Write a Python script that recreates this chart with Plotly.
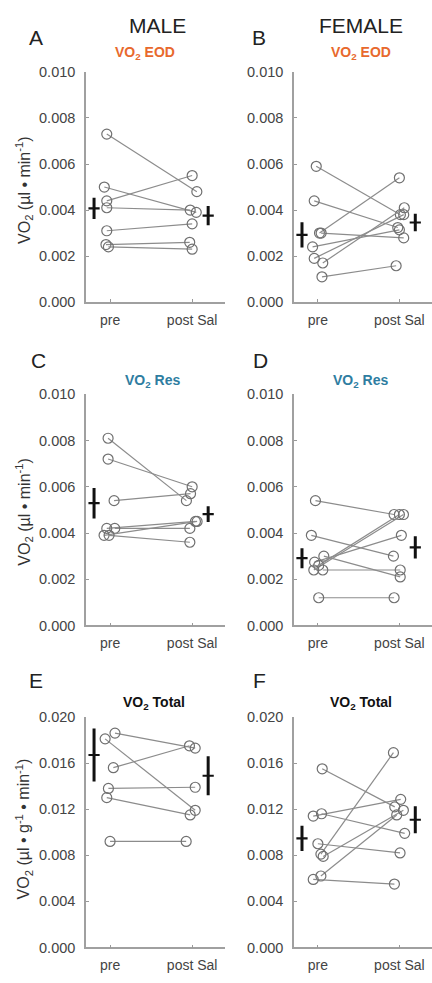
import plotly.graph_objects as go

# ---------------- data ----------------
categories = ["pre", "post Sal"]

A_pre = [0.0073, 0.0050, 0.0044, 0.0041, 0.0031, 0.0025, 0.0024]
A_post = [0.0048, 0.0039, 0.0055, 0.0040, 0.0034, 0.0026, 0.0023]
B_pre = [0.0059, 0.0044, 0.0030, 0.0030, 0.0024, 0.0019, 0.0017, 0.0011]
B_post = [0.0038, 0.00324, 0.0054, 0.00279, 0.00314, 0.0038, 0.0041, 0.00158]
C_pre = [0.0081, 0.0072, 0.0054, 0.0042, 0.0042, 0.0039, 0.0039]
C_post = [0.0054, 0.0060, 0.0057, 0.0045, 0.0042, 0.0045, 0.0036]
D_pre = [0.0054, 0.0039, 0.0030, 0.00274, 0.0026, 0.0024, 0.0024, 0.0012]
D_post = [0.0048, 0.0030, 0.0021, 0.0039, 0.0048, 0.0048, 0.0024, 0.0012]
E_pre = [0.0181, 0.0186, 0.0156, 0.0138, 0.0130, 0.0092]
E_post = [0.0119, 0.0173, 0.0175, 0.0139, 0.0115, 0.0092]
F_pre = [0.0155, 0.0114, 0.0116, 0.0090, 0.0081, 0.0079, 0.0062, 0.0059]
F_post = [0.0122, 0.01285, 0.0099, 0.0082, 0.0169, 0.0119, 0.0115, 0.0055]

# group mean and error
A_mean = [0.00407, 0.00376]; A_err = [0.00046, 0.00042]
B_mean = [0.00292, 0.00346]; B_err = [0.00055, 0.00038]
C_mean = [0.00529, 0.00482]; C_err = [0.00066, 0.00034]
D_mean = [0.00291, 0.00338]; D_err = [0.00043, 0.00048]
E_mean = [0.0167, 0.0149];   E_err = [0.0023, 0.0017]
F_mean = [0.00946, 0.01108]; F_err = [0.0011, 0.00118]

# horizontal scatter of individual points (jitter)
A_jit = ([-0.04, -0.07, -0.04, -0.04, -0.04, -0.05, -0.02], [0.057, 0.05, 0, -0.024, 0, -0.03, 0])
B_jit = ([-0.02, -0.045, 0.02, 0.04, -0.065, -0.045, 0.06, 0.05], [0.012, -0.02, 0, 0.053, 0, 0.053, 0.06, -0.04])
C_jit = ([-0.024, -0.024, 0.049, -0.04, 0.057, -0.073, -0.012], [-0.07, 0, -0.02, 0.04, -0.028, 0.06, -0.028])
D_jit = ([-0.03, -0.08, 0.073, -0.04, 0.01, -0.05, 0.06, 0.01], [-0.065, -0.073, 0.01, 0.024, 0, 0.05, 0.01, -0.065])
E_jit = ([-0.06, 0.06, 0.04, -0.02, -0.04, 0], [0.037, 0.037, -0.033, 0.037, -0.024, -0.073])
F_jit = ([0.053, -0.057, 0.045, 0, 0.037, 0.065, 0.037, -0.057], [-0.057, 0.016, 0.065, 0.008, -0.073, 0.049, -0.033, -0.061])

yticks_small = [0.000, 0.002, 0.004, 0.006, 0.008, 0.010]
yticks_total = [0.000, 0.004, 0.008, 0.012, 0.016, 0.020]

# ---------------- layout geometry ----------------
W, H = 432, 983
FONT = "Liberation Sans, Arial, Helvetica, sans-serif"
col_px = [(86, 225), (294, 432)]
row_px = [(65, 299), (392.7, 627.7), (720.7, 955)]

panels = [
    ("A", A_pre, A_post, A_mean, A_err, A_jit, 0, 0, yticks_small),
    ("B", B_pre, B_post, B_mean, B_err, B_jit, 0, 1, yticks_small),
    ("C", C_pre, C_post, C_mean, C_err, C_jit, 1, 0, yticks_small),
    ("D", D_pre, D_post, D_mean, D_err, D_jit, 1, 1, yticks_small),
    ("E", E_pre, E_post, E_mean, E_err, E_jit, 2, 0, yticks_total),
    ("F", F_pre, F_post, F_mean, F_err, F_jit, 2, 1, yticks_total),
]

fig = go.Figure()
layout = {}
x_cat = [1, 2]
mean_x = [0.805, 2.195]

for i, (lab, pre, post, mean, err, jit, r, c, yt) in enumerate(panels):
    n = i + 1
    xa = "x" if n == 1 else f"x{n}"
    ya = "y" if n == 1 else f"y{n}"
    # paired lines + circles
    for k in range(len(pre)):
        xs = [x_cat[0] + jit[0][k], x_cat[1] + jit[1][k]]
        ys = [pre[k], post[k]]
        fig.add_trace(go.Scatter(
            x=xs, y=ys, mode="lines+markers", xaxis=xa, yaxis=ya,
            line=dict(color="#8c8c8c", width=1.2),
            marker=dict(symbol="circle-open", size=10, color="#707070",
                        line=dict(width=1.2, color="#707070")),
            showlegend=False, hoverinfo="skip"))
    # mean +- error
    fig.add_trace(go.Scatter(
        x=mean_x, y=mean, mode="markers", xaxis=xa, yaxis=ya,
        marker=dict(symbol="line-ew", size=8, color="#111",
                    line=dict(width=2.2, color="#111")),
        error_y=dict(type="data", array=err, visible=True, thickness=3,
                     width=0, color="#111"),
        showlegend=False, hoverinfo="skip"))

    x0, x1 = col_px[c]
    y0, y1 = row_px[r]
    layout["xaxis" if n == 1 else f"xaxis{n}"] = dict(
        domain=[x0 / W, x1 / W], range=[0.707, 2.40], anchor=ya,
        tickmode="array", tickvals=x_cat, ticktext=categories,
        ticks="inside", ticklen=3, tickcolor="#999", showgrid=False,
        zeroline=False, showline=True, linecolor="#a0a0a0", linewidth=1.5,
        tickfont=dict(family=FONT, size=14, color="#444"), ticklabelstandoff=4)
    layout["yaxis" if n == 1 else f"yaxis{n}"] = dict(
        domain=[1 - y1 / H, 1 - y0 / H], range=[0, yt[-1]], anchor=xa,
        tickmode="array", tickvals=yt, ticktext=[f"{v:.3f}" for v in yt],
        ticks="inside", ticklen=3, tickcolor="#999", showgrid=False,
        zeroline=False, showline=True, linecolor="#a0a0a0", linewidth=1.5,
        tickfont=dict(family=FONT, size=14.5, color="#444"), ticklabelstandoff=6)

ann = []
def add_text(text, x, y, size, color="#222", angle=0):
    ann.append(dict(text=text, x=x / W, y=1 - y / H, xref="paper", yref="paper",
                    showarrow=False, textangle=angle, xanchor="center", yanchor="middle",
                    font=dict(family=FONT, size=size, color=color)))

add_text("MALE", 157, 18, 21)
add_text("FEMALE", 361, 18, 21)
for lab, x, y in [("A", 36, 30), ("B", 259, 30), ("C", 38, 358), ("D", 260, 358), ("E", 36, 684), ("F", 259, 684)]:
    add_text(lab, x, y, 21)

orange = "#E8692D"
blue = "#2E7DA1"
add_text("<b>VO<sub>2</sub> EOD</b>", 145, 46, 14, orange)
add_text("<b>VO<sub>2</sub> EOD</b>", 361, 46, 14, orange)
add_text("<b>VO<sub>2</sub> Res</b>", 152, 379, 14, blue)
add_text("<b>VO<sub>2</sub> Res</b>", 360, 379, 14, blue)
add_text("<b>VO<sub>2</sub> Total</b>", 154, 706, 14, "#111")
add_text("<b>VO<sub>2</sub> Total</b>", 361, 706, 14, "#111")

add_text("VO<sub>2</sub> (µl • min<sup>-1</sup>)", 24, 186, 16, "#333", -90)
add_text("VO<sub>2</sub> (µl • min<sup>-1</sup>)", 24, 513, 16, "#333", -90)
add_text("VO<sub>2</sub> (µl • g<sup>-1</sup> • min<sup>-1</sup>)", 24, 835, 16, "#333", -90)

fig.update_layout(
    width=W, height=H, margin=dict(l=0, r=0, t=0, b=0),
    paper_bgcolor="white", plot_bgcolor="white",
    annotations=ann, **layout)

fig.write_html("out.html")
